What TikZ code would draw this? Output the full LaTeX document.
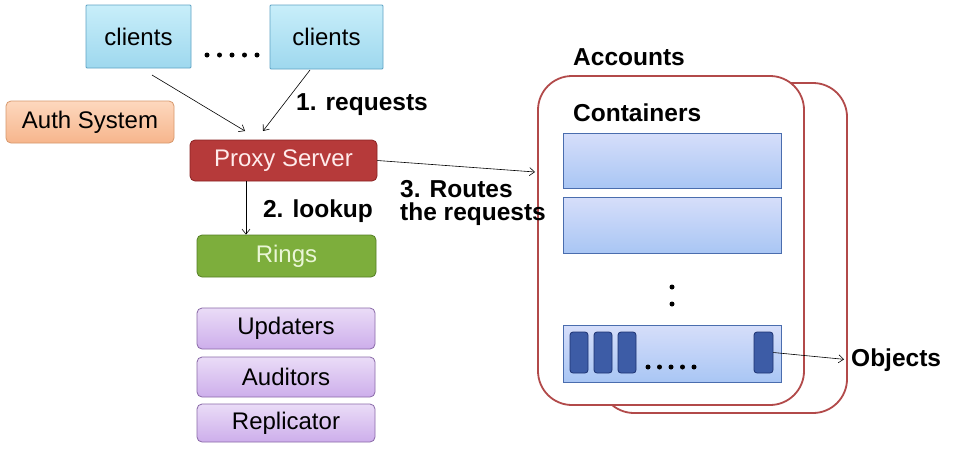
\documentclass[tikz,border=0pt]{standalone}
\usepackage{fontspec}
\setmainfont{Liberation Sans}
\usetikzlibrary{arrows.meta}
\definecolor{cliTop}{HTML}{C8EEFA}
\definecolor{cliBot}{HTML}{9ED8EE}
\definecolor{cliLine}{HTML}{5FA3C4}
\definecolor{authTop}{HTML}{FDD8BE}
\definecolor{authBot}{HTML}{F6B58C}
\definecolor{authLine}{HTML}{D7986C}
\definecolor{proxyFill}{HTML}{B63A3A}
\definecolor{proxyLine}{HTML}{8A2222}
\definecolor{ringFill}{HTML}{7DAE3C}
\definecolor{ringLine}{HTML}{557F25}
\definecolor{ringText}{HTML}{EAF6D6}
\definecolor{purTop}{HTML}{EADCF7}
\definecolor{purBot}{HTML}{CDAEEB}
\definecolor{purLine}{HTML}{8A6AA8}
\definecolor{conTop}{HTML}{D6DEFA}
\definecolor{conBot}{HTML}{A9C6F4}
\definecolor{conLine}{HTML}{4A6DAE}
\definecolor{objFill}{HTML}{3D5CA6}
\definecolor{objLine}{HTML}{1C3272}
\definecolor{acctLine}{HTML}{B24A4A}
\begin{document}
\begin{tikzpicture}[x=1pt,y=-1pt,
  txt/.style={font=\fontsize{24}{28}\selectfont},
  lbl/.style={font=\bfseries\fontsize{24.5}{28}\selectfont, inner sep=0pt},
  box/.style={draw, rounded corners=3pt, inner sep=0pt, line width=0.8pt, txt},
  clientbox/.style={box, rounded corners=1pt, top color=cliTop, bottom color=cliBot, draw=cliLine},
  authbox/.style={box, rounded corners=5pt, top color=authTop, bottom color=authBot, draw=authLine},
  proxybox/.style={box, rounded corners=5pt, fill=proxyFill, draw=proxyLine, text=white!92!red},
  ringbox/.style={box, rounded corners=5pt, fill=ringFill, draw=ringLine, text=ringText},
  purbox/.style={box, rounded corners=5pt, top color=purTop, bottom color=purBot, draw=purLine},
  acctbox/.style={draw=acctLine, line width=1.8pt, fill=white, rounded corners=34pt, inner sep=0pt},
  conbox/.style={draw=conLine, line width=0.8pt, top color=conTop, bottom color=conBot, inner sep=0pt, minimum width=218pt},
  objbox/.style={draw=objLine, line width=0.8pt, fill=objFill, rounded corners=3pt, inner sep=0pt, minimum width=18pt, minimum height=41pt},
  arr/.style={-{Straight Barb[length=5pt,width=8pt]}, line width=0.6pt},
  dot/.style={fill=black, circle, inner sep=0pt, minimum size=5pt}
]
\useasboundingbox[fill=white] (0,0) rectangle (957,453);

% clients
\node[clientbox, minimum width=105pt, minimum height=63pt] (c1) at (138.5,36.5) {clients};
\node[clientbox, minimum width=113pt, minimum height=64pt] (c2) at (326.5,37) {clients};
\foreach \i in {0,...,4} \node[dot] (cd\i) at (207+12.5*\i,55) {};

% left column
\node[authbox, minimum width=168pt, minimum height=42pt] (auth) at (90,122) {Auth System};
\node[proxybox, minimum width=187pt, minimum height=41pt] (proxy) at (283.5,160.5) {Proxy Server};
\node[ringbox, minimum width=179pt, minimum height=42pt] (rings) at (286.5,256) {Rings};
\node[purbox, minimum width=178pt, minimum height=41pt] (upd) at (286,328.5) {Updaters};
\node[purbox, minimum width=178pt, minimum height=40pt] (aud) at (286,377) {Auditors};
\node[purbox, minimum width=178pt, minimum height=38pt] (rep) at (286,423) {Replicator};

% request arrows
\coordinate (r1s) at (152,75);
\coordinate (r1e) at (245,131);
\coordinate (r2s) at (310,70);
\coordinate (r2e) at (263,131);
\draw[arr] (r1s) -- (r1e);
\draw[arr] (r2s) -- (r2e);
\node[lbl] (req) at (362,105) {1. requests};

% lookup
\draw[arr] ([xshift=-37.5pt]proxy.south) -- ([xshift=-40.5pt]rings.north);
\node[lbl] (look) at (318,211) {2. lookup};

% accounts
\node[acctbox, minimum width=247pt, minimum height=330pt] (accback) at (723.5,248) {};
\node[acctbox, minimum width=266pt, minimum height=329pt] (acc) at (671,240.5) {};
\node[lbl, anchor=west] (acclbl) at (573,57) {Accounts};
\node[lbl, anchor=west] (conlbl) at (573,113) {Containers};

\node[conbox, minimum height=55pt] (con1) at (672,160.5) {};
\node[conbox, minimum height=56pt] (con2) at (672,225) {};
\node[conbox, minimum height=57pt] (con3) at (672,353.5) {};
\node[dot] (vd1) at (672,287) {};
\node[dot] (vd2) at (672,304) {};

\node[objbox] (o1) at (579,352.5) {};
\node[objbox] (o2) at (603,352.5) {};
\node[objbox] (o3) at (627,352.5) {};
\node[objbox, minimum width=19pt] (o4) at (763.5,352.5) {};
\foreach \i in {0,...,4} \node[dot] (od\i) at (648+11.5*\i,367) {};

% routes
\coordinate (routeend) at (535,172);
\draw[arr] (proxy.east) -- (routeend);
\node[lbl, anchor=west, align=left, font=\bfseries\fontsize{24.5}{23}\selectfont] (rt) at (400,203) {3. Routes\\the requests};

% objects
\node[lbl, anchor=west] (objlbl) at (851,360) {Objects};
\draw[arr, shorten >=7pt] (o4.east) -- (objlbl.west);
\end{tikzpicture}
\end{document}
